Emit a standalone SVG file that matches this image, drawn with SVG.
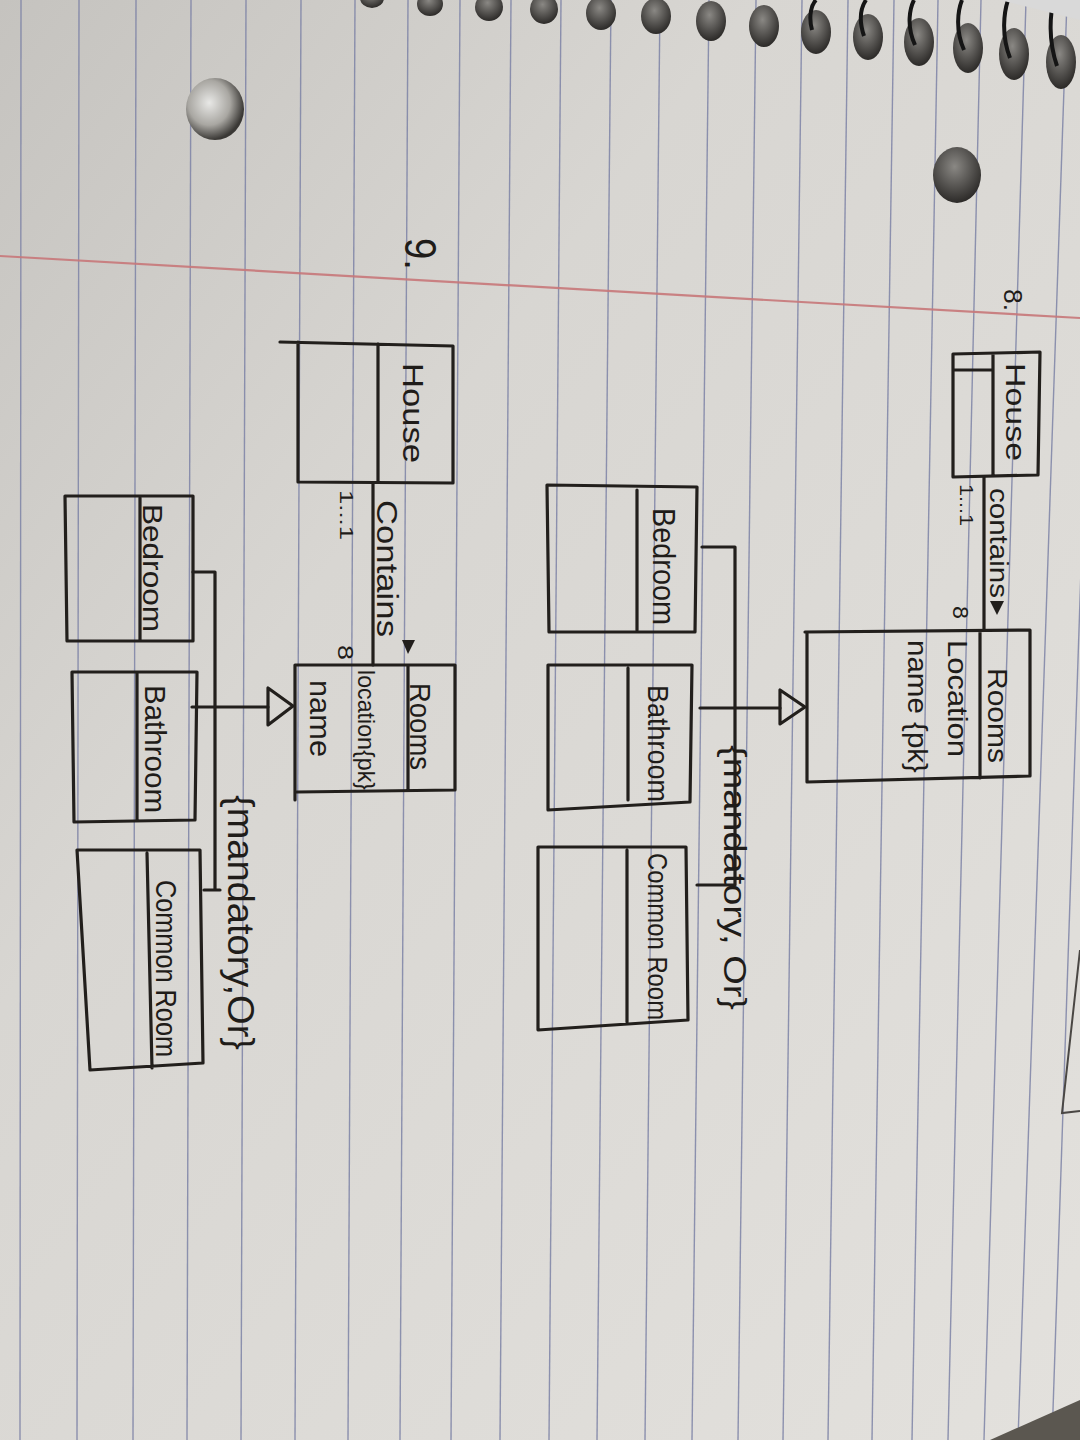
<svg xmlns="http://www.w3.org/2000/svg" width="1080" height="1440" viewBox="0 0 1080 1440">
<defs>
<linearGradient id="paper" x1="0" y1="0" x2="1" y2="1">
<stop offset="0" stop-color="#c5c3bf"/>
<stop offset="0.35" stop-color="#d8d6d2"/>
<stop offset="1" stop-color="#e3e1dd"/>
</linearGradient>
<radialGradient id="holeL" cx="0.4" cy="0.4" r="0.6">
<stop offset="0" stop-color="#e8e8e6"/>
<stop offset="0.6" stop-color="#a9a7a2"/>
<stop offset="1" stop-color="#3a3835"/>
</radialGradient>
<radialGradient id="holeD" cx="0.45" cy="0.35" r="0.65">
<stop offset="0" stop-color="#8a8884"/>
<stop offset="1" stop-color="#2c2a28"/>
</radialGradient>
<style>
.rule{stroke:#7c82a6;stroke-width:1.4;fill:none;opacity:0.85}
.ink{stroke:#221f1c;stroke-width:3.2;fill:none;stroke-linecap:round;stroke-linejoin:round}
.t{font-family:"Liberation Sans","DejaVu Sans",sans-serif;fill:#1f1c19}
.ring{stroke:#151515;stroke-width:4;fill:none}
</style>
</defs>
<rect x="0" y="0" width="1080" height="1440" fill="url(#paper)"/>
<g id="paper-rules">
<line class="rule" x1="21" y1="0" x2="20" y2="1440"/>
<line class="rule" x1="79" y1="0" x2="77" y2="1440"/>
<line class="rule" x1="136" y1="0" x2="133" y2="1440"/>
<line class="rule" x1="191" y1="0" x2="187" y2="1440"/>
<line class="rule" x1="246" y1="0" x2="241" y2="1440"/>
<line class="rule" x1="301" y1="0" x2="295" y2="1440"/>
<line class="rule" x1="355" y1="0" x2="348" y2="1440"/>
<line class="rule" x1="408" y1="0" x2="400" y2="1440"/>
<line class="rule" x1="460" y1="0" x2="451" y2="1440"/>
<line class="rule" x1="511" y1="0" x2="500" y2="1440"/>
<line class="rule" x1="561" y1="0" x2="549" y2="1440"/>
<line class="rule" x1="611" y1="0" x2="597" y2="1440"/>
<line class="rule" x1="660" y1="0" x2="645" y2="1440"/>
<line class="rule" x1="709" y1="0" x2="692" y2="1440"/>
<line class="rule" x1="756" y1="0" x2="738" y2="1440"/>
<line class="rule" x1="802" y1="0" x2="783" y2="1440"/>
<line class="rule" x1="848" y1="0" x2="828" y2="1440"/>
<line class="rule" x1="894" y1="0" x2="872" y2="1440"/>
<line class="rule" x1="938" y1="0" x2="912" y2="1440"/>
<line class="rule" x1="981" y1="0" x2="948" y2="1440"/>
<line class="rule" x1="1026" y1="0" x2="984" y2="1440"/>
<line class="rule" x1="1067" y1="0" x2="1018" y2="1440"/>
<line class="rule" x1="1090" y1="300" x2="1052" y2="1440"/>
<line x1="0" y1="256" x2="1080" y2="318" stroke="#c8787a" stroke-width="2.2" opacity="0.9"/>
</g>
<g id="binding">
<ellipse cx="215" cy="109" rx="29" ry="31" fill="url(#holeL)"/>
<ellipse cx="957" cy="175" rx="24" ry="28" fill="url(#holeD)"/>
<ellipse cx="372" cy="-2" rx="12" ry="10" fill="url(#holeD)"/>
<ellipse cx="430" cy="4" rx="13" ry="12" fill="url(#holeD)"/>
<ellipse cx="489" cy="7" rx="14" ry="14" fill="url(#holeD)"/>
<ellipse cx="544" cy="9" rx="14" ry="15" fill="url(#holeD)"/>
<ellipse cx="601" cy="13" rx="15" ry="17" fill="url(#holeD)"/>
<ellipse cx="656" cy="16" rx="15" ry="18" fill="url(#holeD)"/>
<ellipse cx="711" cy="21" rx="15" ry="20" fill="url(#holeD)"/>
<ellipse cx="764" cy="26" rx="15" ry="21" fill="url(#holeD)"/>
<ellipse cx="816" cy="32" rx="15" ry="22" fill="url(#holeD)"/>
<ellipse cx="868" cy="37" rx="15" ry="23" fill="url(#holeD)"/>
<ellipse cx="919" cy="42" rx="15" ry="24" fill="url(#holeD)"/>
<ellipse cx="968" cy="48" rx="15" ry="25" fill="url(#holeD)"/>
<ellipse cx="1014" cy="54" rx="15" ry="26" fill="url(#holeD)"/>
<ellipse cx="1061" cy="62" rx="15" ry="27" fill="url(#holeD)"/>
<path class="ring" d="M812,30 C808,15 812,4 816,0"/>
<path class="ring" d="M864,36 C858,18 862,6 866,0"/>
<path class="ring" d="M915,45 C906,25 910,8 914,0"/>
<path class="ring" d="M964,50 C955,30 958,10 962,0"/>
<path class="ring" d="M1010,58 C1001,35 1004,12 1008,0"/>
<path class="ring" d="M1057,66 C1048,40 1050,14 1054,0"/>
<polygon points="1000,0 1080,0 1080,20" fill="#d9d9d9"/>
</g>
<g id="page-edge">
<polyline points="1080,950 1062,1113 1080,1111" fill="none" stroke="#4a4744" stroke-width="2"/>
<polygon points="990,1440 1080,1400 1080,1440" fill="#5b5750"/>
</g>

<g id="connectors">
<path class="ink" d="M984,477 V630"/>
<polygon points="990,601 1004,601 997,615" fill="#221f1c"/>
<path class="ink" d="M702,547 H735 V885 H697"/>
<path class="ink" d="M700,708 H780"/>
<polygon class="ink" points="780,690 780,724 805,707"/>
<path class="ink" d="M373,483 V665"/>
<polygon points="402,640 415,640 408,654" fill="#221f1c"/>
<path class="ink" d="M193,572 H215 V890 M204,890 H220"/>
<path class="ink" d="M192,707 H268"/>
<polygon class="ink" points="268,688 268,725 293,706"/>
</g>

<g id="label-8">
<text class="t" font-size="26" transform="translate(1004,289) rotate(90)" textLength="22" lengthAdjust="spacingAndGlyphs">8.</text>
</g>
<g id="house-8">
<path class="ink" d="M953,354 L1040,352 L1038,475 L953,477 Z M993,354 V476 M953,370 H993"/>
<text class="t" font-size="28" transform="translate(1006,363) rotate(90)" textLength="98" lengthAdjust="spacingAndGlyphs">House</text>
</g>
<g id="assoc-8-labels">
<text class="t" font-size="26" transform="translate(990,488) rotate(90)" textLength="110" lengthAdjust="spacingAndGlyphs">contains</text>
<text class="t" font-size="18" transform="translate(960,484) rotate(90)" textLength="42" lengthAdjust="spacingAndGlyphs">1...1</text>
<text class="t" font-size="22" transform="translate(953,606) rotate(90)" textLength="13" lengthAdjust="spacingAndGlyphs">8</text>
</g>
<g id="rooms-8">
<path class="ink" d="M805,632 L1030,630 L1030,776 L807,782 L807,632 M980,632 V778"/>
<text class="t" font-size="28" transform="translate(988,668) rotate(90)" textLength="95" lengthAdjust="spacingAndGlyphs">Rooms</text>
<text class="t" font-size="28" transform="translate(948,640) rotate(90)" textLength="117" lengthAdjust="spacingAndGlyphs">Location</text>
<text class="t" font-size="28" transform="translate(908,640) rotate(90)" textLength="133" lengthAdjust="spacingAndGlyphs">name {pk}</text>
</g>
<g id="constraint-8">
<text class="t" font-size="32" transform="translate(724,745) rotate(90)" textLength="265" lengthAdjust="spacingAndGlyphs">{mandatory, Or}</text>
</g>
<g id="bedroom-8">
<path class="ink" d="M547,485 L697,487 L695,632 L549,632 Z M637,490 V630"/>
<text class="t" font-size="32" transform="translate(653,508) rotate(90)" textLength="117" lengthAdjust="spacingAndGlyphs">Bedroom</text>
</g>
<g id="bathroom-8">
<path class="ink" d="M548,665 L692,665 L690,802 L548,810 Z M628,668 V800"/>
<text class="t" font-size="30" transform="translate(648,685) rotate(90)" textLength="117" lengthAdjust="spacingAndGlyphs">Bathroom</text>
</g>
<g id="commonroom-8">
<path class="ink" d="M538,847 L686,847 L688,1020 L538,1030 Z M627,850 V1022"/>
<text class="t" font-size="28" transform="translate(648,853) rotate(90)" textLength="167" lengthAdjust="spacingAndGlyphs">Common Room</text>
</g>

<g id="label-9">
<text class="t" font-size="44" transform="translate(405,238) rotate(90)" textLength="32" lengthAdjust="spacingAndGlyphs">9.</text>
</g>
<g id="house-9">
<path class="ink" d="M280,342 L453,346 L453,483 L298,482 L298,342 M378,344 V482"/>
<text class="t" font-size="30" transform="translate(403,363) rotate(90)" textLength="100" lengthAdjust="spacingAndGlyphs">House</text>
</g>
<g id="assoc-9-labels">
<text class="t" font-size="30" transform="translate(377,500) rotate(90)" textLength="137" lengthAdjust="spacingAndGlyphs">Contains</text>
<text class="t" font-size="18" transform="translate(340,490) rotate(90)" textLength="50" lengthAdjust="spacingAndGlyphs">1...1</text>
<text class="t" font-size="22" transform="translate(338,645) rotate(90)" textLength="15" lengthAdjust="spacingAndGlyphs">8</text>
</g>
<g id="rooms-9">
<path class="ink" d="M295,665 L455,665 L455,790 L297,792 M295,665 V800 M408,665 V790"/>
<text class="t" font-size="30" transform="translate(410,683) rotate(90)" textLength="87" lengthAdjust="spacingAndGlyphs">Rooms</text>
<text class="t" font-size="24" transform="translate(358,670) rotate(90)" textLength="120" lengthAdjust="spacingAndGlyphs">location{pk}</text>
<text class="t" font-size="30" transform="translate(310,680) rotate(90)" textLength="77" lengthAdjust="spacingAndGlyphs">name</text>
</g>
<g id="constraint-9">
<text class="t" font-size="36" transform="translate(228,795) rotate(90)" textLength="255" lengthAdjust="spacingAndGlyphs">{mandatory,Or}</text>
</g>
<g id="bedroom-9">
<path class="ink" d="M65,496 L193,496 L193,641 L67,641 Z M140,498 V640"/>
<text class="t" font-size="28" transform="translate(143,504) rotate(90)" textLength="128" lengthAdjust="spacingAndGlyphs">Bedroom</text>
</g>
<g id="bathroom-9">
<path class="ink" d="M72,672 L197,672 L195,820 L74,822 Z M137,673 V820"/>
<text class="t" font-size="30" transform="translate(145,685) rotate(90)" textLength="128" lengthAdjust="spacingAndGlyphs">Bathroom</text>
</g>
<g id="commonroom-9">
<path class="ink" d="M77,850 L200,850 L203,1063 L90,1070 Z M147,853 L152,1068"/>
<text class="t" font-size="30" transform="translate(156,880) rotate(90)" textLength="177" lengthAdjust="spacingAndGlyphs">Common Room</text>
</g>
</svg>
